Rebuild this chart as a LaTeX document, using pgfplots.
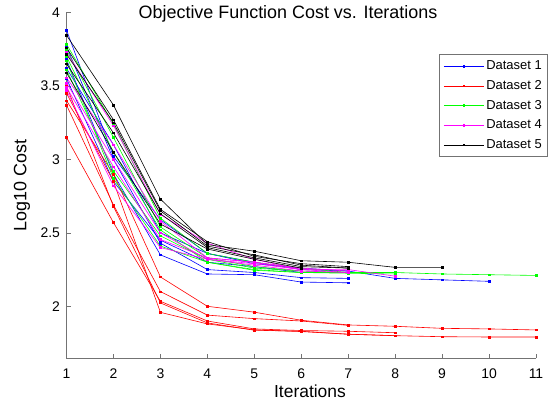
\documentclass[border=0pt]{standalone}
\usepackage{fontspec}
\setmainfont{Liberation Sans}
\usepackage{pgfplots}
\pgfplotsset{compat=1.18}
\usetikzlibrary{calc}
\definecolor{mblue}{rgb}{0,0,1}
\definecolor{mred}{rgb}{1,0,0}
\definecolor{mgreen}{rgb}{0,1,0}
\definecolor{mmag}{rgb}{1,0,1}
\definecolor{axgray}{rgb}{0.45,0.45,0.45}
\begin{document}
\begin{tikzpicture}
\begin{axis}[
  scale only axis,
  width=469.5bp, height=345.8bp,
  xmin=1, xmax=11, ymin=1.646, ymax=4,
  xtick={1,2,...,11},
  ytick={2,2.5,3,3.5,4},
  yticklabels={2,2.5,3,3.5,4},
  axis x line*=bottom, axis y line*=left,
  axis line style={axgray, line width=0.6bp},
  tick style={axgray, line width=0.6bp},
  tick align=inside,
  major tick length=4.5bp,
  clip=false,
  /pgf/number format/assume math mode=true,
  ticklabel style={font=\fontsize{14}{16}\selectfont},
  xticklabel style={yshift=-7bp},
  yticklabel style={xshift=-3bp},
  title={Objective Function Cost vs. Iterations},
  title style={font=\fontsize{18}{20}\selectfont, at={(axis description cs:0.4718,0.966)}, anchor=base},
  xlabel={Iterations},
  xlabel style={font=\fontsize{17.5}{20}\selectfont, inner sep=0pt, at={(axis description cs:0.5186,-0.114)}, anchor=base},
  ylabel={Log10 Cost},
  ylabel style={font=\fontsize{18}{20}\selectfont, at={(axis description cs:-0.095,0.5)}, anchor=center},
  every axis plot/.append style={line width=0.6bp, mark=square*, mark size=0.8bp},
  legend cell align=left,
  legend style={at={(axis description cs:1.0256,0.879)}, anchor=north east,
    draw=axgray, line width=0.6bp, fill=white,
    font=\fontsize{13}{15}\selectfont,
    inner xsep=4bp, inner ysep=3.5bp,
    nodes={inner sep=2bp, text height=9.5bp, text depth=2.5bp},
    row sep=3.7bp},
  legend image code/.code={\draw[mark repeat=2,mark phase=2] plot coordinates {(0bp,0bp) (20bp,0bp) (40bp,0bp)};},
]
% Dataset 1
\addplot[color=mblue] coordinates {(1,3.88)(2,3.02)(3,2.59)(4,2.36)(5,2.30)(6,2.25)(7,2.24)(8,2.19)(9,2.18)(10,2.17)};
\addlegendentry{Dataset 1}
\addplot[color=mblue, forget plot] coordinates {(1,3.77)(2,3.00)(3,2.43)(4,2.25)(5,2.23)(6,2.195)(7,2.19)};
\addplot[color=mblue, forget plot] coordinates {(1,3.68)(2,2.90)(3,2.35)(4,2.22)(5,2.215)(6,2.165)(7,2.16)};
\addplot[color=mblue, forget plot] coordinates {(1,3.62)(2,3.10)(3,2.50)(4,2.36)(5,2.29)(6,2.26)(7,2.24)};
\addplot[color=mblue, forget plot] coordinates {(1,3.55)(2,2.85)(3,2.45)(4,2.30)(5,2.27)(6,2.23)};
% Dataset 2
\addplot[color=mred] coordinates {(1,3.40)(2,2.90)(3,2.20)(4,2.00)(5,1.96)(6,1.905)(7,1.873)(8,1.864)(9,1.85)(10,1.846)(11,1.839)};
\addlegendentry{Dataset 2}
\addplot[color=mred, forget plot] coordinates {(1,3.37)(2,2.69)(3,2.10)(4,1.94)(5,1.916)(6,1.90)(7,1.87)};
\addplot[color=mred, forget plot] coordinates {(1,3.15)(2,2.57)(3,2.034)(4,1.90)(5,1.846)(6,1.835)(7,1.83)(8,1.82)};
\addplot[color=mred, forget plot] coordinates {(1,3.50)(2,2.68)(3,2.023)(4,1.887)(5,1.837)(6,1.83)(7,1.81)(8,1.80)};
\addplot[color=mred, forget plot] coordinates {(1,3.45)(2,2.85)(3,1.959)(4,1.88)(5,1.84)(6,1.828)(7,1.81)(8,1.80)(9,1.793)(10,1.791)(11,1.791)};
% Dataset 3
\addplot[color=mgreen] coordinates {(1,3.784)(2,3.24)(3,2.60)(4,2.36)(5,2.30)(6,2.26)(7,2.23)(8,2.23)(9,2.22)(10,2.215)(11,2.21)};
\addlegendentry{Dataset 3}
\addplot[color=mgreen, forget plot] coordinates {(1,3.745)(2,3.15)(3,2.54)(4,2.33)(5,2.27)(6,2.24)(7,2.23)};
\addplot[color=mgreen, forget plot] coordinates {(1,3.70)(2,3.05)(3,2.52)(4,2.30)(5,2.245)(6,2.23)(7,2.225)(8,2.22)};
\addplot[color=mgreen, forget plot] coordinates {(1,3.67)(2,2.87)(3,2.41)(4,2.30)(5,2.25)(6,2.23)(7,2.23)};
\addplot[color=mgreen, forget plot] coordinates {(1,3.61)(2,2.92)(3,2.48)(4,2.32)(5,2.26)(6,2.24)};
% Dataset 4
\addplot[color=mmag] coordinates {(1,3.73)(2,3.23)(3,2.625)(4,2.43)(5,2.32)(6,2.25)(7,2.25)(8,2.205)};
\addlegendentry{Dataset 4}
\addplot[color=mmag, forget plot] coordinates {(1,3.556)(2,3.10)(3,2.58)(4,2.33)(5,2.30)(6,2.26)(7,2.24)};
\addplot[color=mmag, forget plot] coordinates {(1,3.52)(2,3.00)(3,2.50)(4,2.32)(5,2.29)(6,2.25)(7,2.23)};
\addplot[color=mmag, forget plot] coordinates {(1,3.49)(2,2.95)(3,2.455)(4,2.33)(5,2.30)(6,2.25)};
\addplot[color=mmag, forget plot] coordinates {(1,3.47)(2,2.82)(3,2.40)(4,2.32)(5,2.28)(6,2.24)(7,2.23)};
% Dataset 5
\addplot[color=black] coordinates {(1,3.845)(2,3.37)(3,2.73)(4,2.42)(5,2.375)(6,2.31)(7,2.30)(8,2.265)(9,2.265)};
\addlegendentry{Dataset 5}
\addplot[color=black, forget plot] coordinates {(1,3.76)(2,3.27)(3,2.66)(4,2.44)(5,2.34)(6,2.29)(7,2.27)};
\addplot[color=black, forget plot] coordinates {(1,3.716)(2,3.25)(3,2.65)(4,2.41)(5,2.35)(6,2.28)(7,2.26)};
\addplot[color=black, forget plot] coordinates {(1,3.65)(2,3.18)(3,2.63)(4,2.40)(5,2.33)(6,2.27)(7,2.26)};
\addplot[color=black, forget plot] coordinates {(1,3.59)(2,3.05)(3,2.56)(4,2.39)(5,2.32)(6,2.26)};
\end{axis}
\pgfresetboundingbox
\path[use as bounding box] ($(current axis.south west)+(-66.5bp,-44.7bp)$) rectangle ($(current axis.north east)+(21bp,12.5bp)$);
\end{tikzpicture}
\end{document}
